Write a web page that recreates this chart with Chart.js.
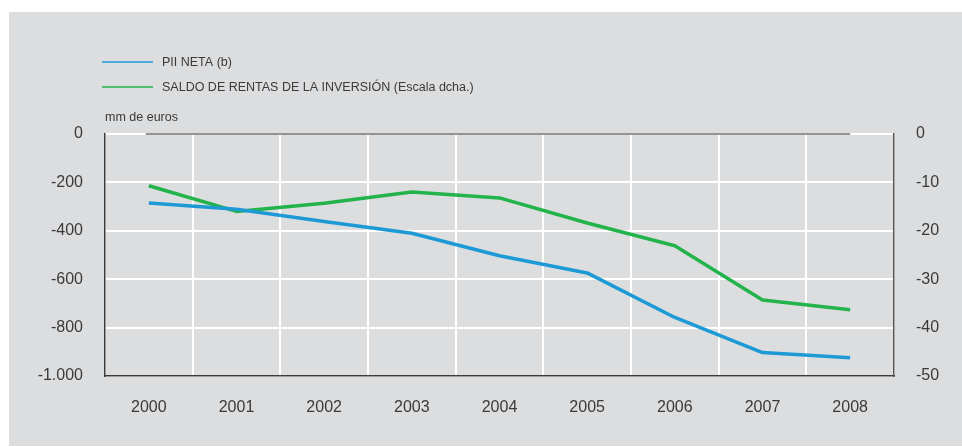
<!DOCTYPE html>
<html>
<head>
<meta charset="utf-8">
<script src="https://cdn.jsdelivr.net/npm/chart.js@4.4.1/dist/chart.umd.min.js"></script>
<style>
  html, body { margin: 0; padding: 0; background: #fff; }
  #wrap { width: 962px; height: 447px; }
</style>
</head>
<body>
<div id="wrap"><canvas id="chart" width="962" height="447"></canvas></div>
<script>
// data
const years = ['2000', '2001', '2002', '2003', '2004', '2005', '2006', '2007', '2008'];
const piiNeta = [-285, -311, -362, -410, -503, -574, -758, -903, -925];       // mm de euros (left)
const saldoRentas = [-10.7, -16.0, -14.3, -12.0, -13.2, -18.4, -23.1, -34.3, -36.3]; // right scale
const seriesLabels = ['PII NETA (b)', 'SALDO DE RENTAS DE LA INVERSIÓN (Escala dcha.)'];
const unitLabel = 'mm de euros';

const FONT = '"Liberation Sans", Arial, Helvetica, sans-serif';
const TEXT = '#3a3a3a';
const BLUE = '#1d9ad6';
const GREEN = '#22b34b';

// "-1.000" style
const fmt = v => {
  const s = Math.abs(v).toString().replace(/\B(?=(\d{3})+(?!\d))/g, '.');
  return (v < 0 ? '-' : '') + s;
};

const decor = {
  id: 'decor',
  beforeDraw(chart) {
    const ctx = chart.ctx;
    ctx.save();
    ctx.fillStyle = '#fff';
    ctx.fillRect(0, 0, chart.width, chart.height);
    ctx.fillStyle = '#dcdddf';
    ctx.fillRect(9, 12, chart.width - 9, 434);
    ctx.restore();
  },
  afterDraw(chart) {
    const ctx = chart.ctx;
    const x = chart.scales.x, y = chart.scales.y;
    ctx.save();
    // zero line across the data span
    ctx.strokeStyle = '#707070';
    ctx.lineWidth = 1.5;
    ctx.beginPath();
    ctx.moveTo(x.getPixelForValue(0) - 3, y.getPixelForValue(0));
    ctx.lineTo(x.getPixelForValue(years.length - 1), y.getPixelForValue(0));
    ctx.stroke();

    // legend
    ctx.font = '12.5px ' + FONT;
    ctx.textBaseline = 'middle';
    chart.data.datasets.forEach((ds, i) => {
      const ly = 62 + i * 25;
      ctx.strokeStyle = ds.borderColor;
      ctx.lineWidth = 1.5;
      ctx.beginPath();
      ctx.moveTo(102, ly);
      ctx.lineTo(153, ly);
      ctx.stroke();
      ctx.fillStyle = TEXT;
      ctx.fillText(ds.label, 162, ly + 1);
    });
    ctx.fillText(unitLabel, 105, 118);
    ctx.restore();
  }
};

new Chart(document.getElementById('chart'), {
  type: 'line',
  data: {
    labels: years,
    datasets: [
      { label: seriesLabels[0], data: piiNeta, yAxisID: 'y', borderColor: BLUE, borderWidth: 3.5 },
      { label: seriesLabels[1], data: saldoRentas, yAxisID: 'y1', borderColor: GREEN, borderWidth: 3.5 }
    ]
  },
  options: {
    responsive: false,
    devicePixelRatio: 1,
    animation: false,
    layout: { padding: { top: 134, left: 0, right: 0, bottom: 0 } },
    elements: {
      point: { radius: 0 },
      line: { tension: 0, borderJoinStyle: 'round', borderCapStyle: 'butt' }
    },
    plugins: { legend: { display: false }, tooltip: { enabled: false } },
    scales: {
      x: {
        offset: true,
        grid: { color: '#fff', lineWidth: 2, offset: true, drawTicks: false },
        border: { color: '#3a3a3a', width: 1.5, z: 1 },
        ticks: { color: TEXT, font: { family: FONT, size: 16 }, padding: 22, maxRotation: 0 },
        afterFit: s => { s.height = 71; }
      },
      y: {
        position: 'left',
        min: -1000, max: 0,
        grid: { color: '#fff', lineWidth: 2, drawTicks: false },
        border: { color: '#3a3a3a', width: 1.5, z: 1 },
        ticks: { stepSize: 200, color: TEXT, font: { family: FONT, size: 16 }, padding: 22, callback: v => fmt(v) },
        afterFit: s => { s.width = 105; }
      },
      y1: {
        position: 'right',
        min: -50, max: 0,
        grid: { display: false, drawTicks: false },
        border: { color: '#555', width: 1.5, z: 1 },
        ticks: { stepSize: 10, color: TEXT, font: { family: FONT, size: 16 }, padding: 22, callback: v => fmt(v) },
        afterFit: s => { s.width = 68; }
      }
    }
  },
  plugins: [decor]
});
</script>
</body>
</html>
